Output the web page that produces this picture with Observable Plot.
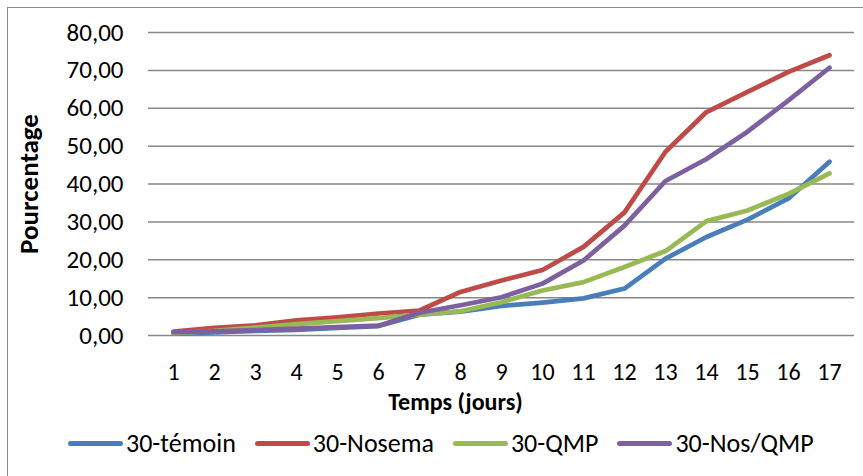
<!DOCTYPE html>
<html><head><meta charset="utf-8">
<script src="https://cdn.jsdelivr.net/npm/d3@7"></script>
<script src="https://cdn.jsdelivr.net/npm/@observablehq/plot@0.6"></script>
<style>
body{margin:0;background:#fff;}
#wrap{position:relative;width:863px;height:476px;overflow:hidden;font-family:Carlito,Lato,sans-serif;}
#frame{position:absolute;left:7px;top:7px;width:900px;height:500px;border-left:1.5px solid #8a8a8a;border-top:1.5px solid #8a8a8a;box-sizing:border-box;}
#chart{position:absolute;left:0;top:0;}
#legend{position:absolute;left:68px;top:428px;display:flex;align-items:center;gap:19px;font-size:26px;line-height:30px;color:#000;}
.item{display:flex;align-items:center;gap:3px;}
.sw{width:55px;height:5px;border-radius:3px;}
</style></head><body>
<div id="wrap"><div id="frame"></div><div id="chart"></div><div id="legend"></div></div>
<script>
const days = [1,2,3,4,5,6,7,8,9,10,11,12,13,14,15,16,17];
const seriesNames = ["30-témoin","30-Nosema","30-QMP","30-Nos/QMP"];
const seriesColors = ["#4A7EBB","#BE4B48","#98B954","#7D60A0"];
const temoin  = [0.5,0.8,1.2,1.5,2.0,2.5,5.5,6.3,7.8,8.7,9.8,12.4,20.3,26.0,30.6,36.2,45.9];
const nosema  = [1.0,2.0,2.7,4.0,4.8,5.8,6.6,11.5,14.5,17.3,23.4,32.5,48.5,59.0,64.3,69.6,74.0];
const qmp     = [0.6,1.2,2.1,3.0,3.8,4.6,5.5,6.4,8.8,11.9,14.1,18.1,22.3,30.2,33.0,37.4,42.8];
const nosQmp  = [0.9,1.1,1.4,1.8,2.2,2.6,6.0,8.0,10.1,13.7,19.8,29.0,40.8,46.6,53.8,62.1,70.7];
const yTicks = [0,10,20,30,40,50,60,70,80];
const xTitle = "Temps (jours)";
const yTitle = "Pourcentage";

const seriesValues = [temoin, nosema, qmp, nosQmp];
const rows = [];
seriesNames.forEach((s, i) => days.forEach((d, j) => rows.push({series: s, day: d, value: seriesValues[i][j]})));
const fmt = d => d.toFixed(2).replace(".", ",");
const font = "Carlito, Lato, sans-serif";

const chart = Plot.plot({
  width: 863, height: 420,
  marginLeft: 148, marginRight: 9, marginTop: 32, marginBottom: 85,
  style: {fontFamily: font, fontSize: "25px", color: "#000", background: "transparent", overflow: "visible"},
  x: {type: "point", domain: days, padding: 0.5},
  y: {domain: [0, 80]},
  color: {domain: seriesNames, range: seriesColors},
  marks: [
    Plot.gridY(yTicks, {stroke: "#878787", strokeOpacity: 1, strokeWidth: 1.5}),
    Plot.axisY(yTicks, {tickSize: 0, tickPadding: 25, tickFormat: fmt, label: null, fontSize: 25}),
    Plot.axisX(days, {tickSize: 0, tickPadding: 27, label: null, fontSize: 24}),
    Plot.lineY(rows, {x: "day", y: "value", z: "series", stroke: "series", strokeWidth: 4.7, strokeLinecap: "round", strokeLinejoin: "round"}),
    Plot.text([yTitle], {frameAnchor: "left", textAnchor: "middle", lineAnchor: "middle", rotate: -90, dx: -119, fontWeight: "bold", fontSize: 27, fill: "#000"}),
    Plot.text([xTitle], {frameAnchor: "bottom", textAnchor: "middle", lineAnchor: "middle", dx: -46, dy: 67, fontWeight: "bold", fontSize: 24, fill: "#000"})
  ]
});
document.getElementById("chart").appendChild(chart);

const legend = document.getElementById("legend");
seriesNames.forEach((s, i) => {
  const it = document.createElement("div"); it.className = "item";
  const sw = document.createElement("span"); sw.className = "sw"; sw.style.background = seriesColors[i];
  const tx = document.createElement("span"); tx.textContent = s;
  it.appendChild(sw); it.appendChild(tx); legend.appendChild(it);
});
</script>
</body></html>
